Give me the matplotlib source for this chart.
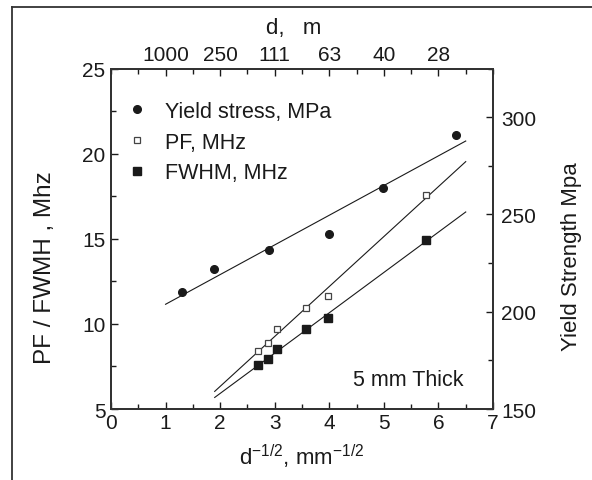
import matplotlib.pyplot as plt
import numpy as np
from matplotlib.ticker import MultipleLocator
from matplotlib.lines import Line2D

plt.rcParams['font.family'] = ['Liberation Sans', 'DejaVu Sans']
plt.rcParams['mathtext.fontset'] = 'custom'
plt.rcParams['mathtext.rm'] = 'Liberation Sans'

# d^-1/2 (mm^-1/2) for yield stress points, and yield stress in MPa
x_yield = [1.3, 1.89, 2.89, 3.99, 4.99, 6.32]
yield_stress = [209.9, 221.8, 231.8, 239.7, 263.7, 290.7]

# d^-1/2 for the acoustic measurements, peak frequency and FWHM in MHz
x_ac = [2.69, 2.87, 3.05, 3.57, 3.98, 5.77]
pf = [8.43, 8.86, 9.68, 10.92, 11.64, 17.57]
fwhm = [7.60, 7.94, 8.51, 9.70, 10.33, 14.93]

top_ticks = [1, 2, 3, 4, 5, 6]
top_labels = ['1000', '250', '111', '63', '40', '28']

ink = '#1a1a1a'
fs = 15

fig = plt.figure(figsize=(5.92, 4.81), dpi=100)
ax = fig.add_axes([0.1875, 0.1476, 0.6453, 0.7079])

# linear fits
p_pf = np.polyfit(x_ac, pf, 1)
p_fw = np.polyfit(x_ac, fwhm, 1)
p_ys = np.polyfit(x_yield, yield_stress, 1)
xf = np.array([1.9, 6.5])
xy = np.array([1.0, 6.5])

ax.plot(xf, np.polyval(p_pf, xf), color=ink, lw=0.8)
ax.plot(xf, np.polyval(p_fw, xf), color=ink, lw=0.8)
ax.plot(x_ac, pf, 's', ms=5, mfc='white', mec='#444444', mew=0.9)
ax.plot(x_ac, fwhm, 's', ms=5.5, color=ink)

ax.set_xlim(0, 7)
ax.set_ylim(5, 25)
ax.xaxis.set_major_locator(MultipleLocator(1))
ax.xaxis.set_minor_locator(MultipleLocator(0.5))
ax.yaxis.set_major_locator(MultipleLocator(5))
ax.yaxis.set_minor_locator(MultipleLocator(2.5))
ax.tick_params(which='both', direction='in', colors=ink, labelsize=fs, width=1)
ax.tick_params(which='major', length=5)
ax.tick_params(which='minor', length=3.5)
ax.tick_params(axis='x', pad=3)
ax.tick_params(axis='y', pad=4)

ax2 = ax.twinx()
ax2.plot(xy, np.polyval(p_ys, xy), color=ink, lw=0.8)
ax2.plot(x_yield, yield_stress, 'o', ms=5.5, color=ink)
ax2.set_ylim(150, 325)
ax2.yaxis.set_major_locator(MultipleLocator(50))
ax2.yaxis.set_minor_locator(MultipleLocator(25))
ax2.tick_params(which='both', direction='in', colors=ink, labelsize=fs, width=1, pad=6)
ax2.tick_params(which='major', length=5)
ax2.tick_params(which='minor', length=3.5)
ax2.set_yticks([150, 200, 250, 300])

ax3 = ax.twiny()
ax3.set_xlim(0, 7)
ax3.set_xticks(top_ticks)
ax3.set_xticklabels(top_labels)
ax3.xaxis.set_minor_locator(MultipleLocator(0.5))
ax3.tick_params(which='both', direction='in', colors=ink, labelsize=fs, width=1, pad=3)
ax3.tick_params(which='major', length=5)
ax3.tick_params(which='minor', length=3.5)

for a in (ax, ax2, ax3):
    for s in a.spines.values():
        s.set_linewidth(1.2)
        s.set_color('#333333')

handles = [
    Line2D([], [], ls='none', marker='o', ms=5.5, color=ink),
    Line2D([], [], ls='none', marker='s', ms=5, mfc='white', mec='#444444', mew=0.9),
    Line2D([], [], ls='none', marker='s', ms=5.5, color=ink),
]
ax3.legend(handles, ['Yield stress, MPa', 'PF, MHz', 'FWHM, MHz'],
           loc='upper left', bbox_to_anchor=(0.04, 0.905), frameon=False,
           fontsize=fs + 0.5, handlelength=1.0, handletextpad=0.8,
           labelspacing=0.45, borderpad=0, borderaxespad=0, labelcolor=ink)

ax.text(6.45, 6.76, '5 mm Thick', ha='right', va='center', fontsize=fs + 0.5, color=ink)

fig.text(45 / 592, 1 - 268 / 481, 'PF / FWMH , Mhz', rotation=90,
         ha='center', va='center', fontsize=17.5, color=ink)
fig.text(572 / 592, 1 - 257 / 481, 'Yield Strength Mpa', rotation=90,
         ha='center', va='center', fontsize=16, color=ink)
fig.text(302 / 592, 1 - 457 / 481,
         r'd$^{\mathregular{-1/2}}$, mm$^{\mathregular{-1/2}}$',
         ha='center', va='center', fontsize=16, color=ink)
fig.text(294 / 592, 1 - 29 / 481, 'd,   m', ha='center', va='center',
         fontsize=16, color=ink)

# outer frame: left and top edges
fig.add_artist(Line2D([12 / 592, 12 / 592], [0, 1 - 8 / 481],
                      transform=fig.transFigure, color='#333333', lw=1.3))
fig.add_artist(Line2D([12 / 592, 1], [1 - 8 / 481, 1 - 8 / 481],
                      transform=fig.transFigure, color='#333333', lw=1.3))

fig.savefig('out.png', dpi=100)
